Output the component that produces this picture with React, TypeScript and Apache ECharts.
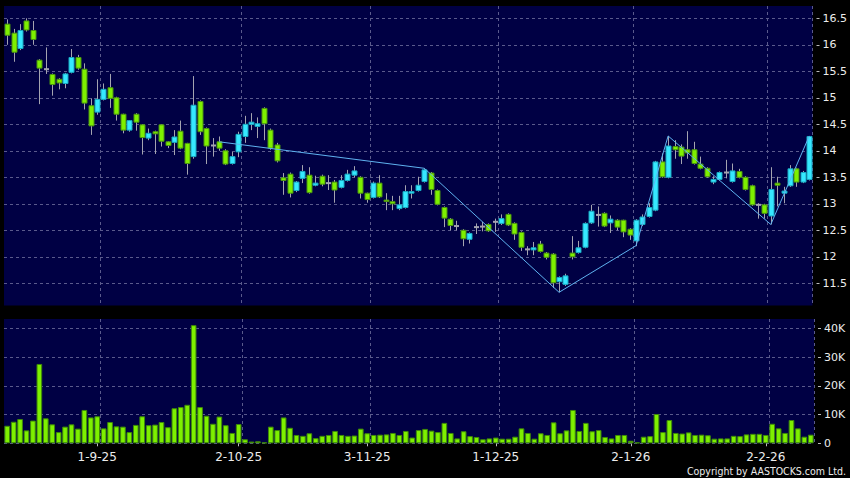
import React, { useEffect, useRef } from "react";
import * as echarts from "echarts";

const dates = [
  "12-8-25","13-8-25","14-8-25","15-8-25","18-8-25","19-8-25","20-8-25","21-8-25","22-8-25",
  "25-8-25","26-8-25","27-8-25","28-8-25","29-8-25",
  "1-9-25","2-9-25","3-9-25","4-9-25","5-9-25","8-9-25","9-9-25","10-9-25","11-9-25","12-9-25",
  "15-9-25","16-9-25","17-9-25","18-9-25","19-9-25","22-9-25","23-9-25","24-9-25","25-9-25","26-9-25",
  "29-9-25","30-9-25",
  "2-10-25","3-10-25","6-10-25","8-10-25","9-10-25","10-10-25","13-10-25","14-10-25","15-10-25","16-10-25","17-10-25",
  "20-10-25","21-10-25","22-10-25","23-10-25","24-10-25","27-10-25","28-10-25","30-10-25","31-10-25",
  "3-11-25","4-11-25","5-11-25","6-11-25","7-11-25","10-11-25","11-11-25","12-11-25","13-11-25","14-11-25",
  "17-11-25","18-11-25","19-11-25","20-11-25","21-11-25","24-11-25","25-11-25","26-11-25","27-11-25","28-11-25",
  "1-12-25","2-12-25","3-12-25","4-12-25","5-12-25","8-12-25","9-12-25","10-12-25","11-12-25","12-12-25",
  "15-12-25","16-12-25","17-12-25","18-12-25","19-12-25","22-12-25","23-12-25","24-12-25","29-12-25","30-12-25","31-12-25",
  "2-1-26","5-1-26","6-1-26","7-1-26","8-1-26","9-1-26","12-1-26","13-1-26","14-1-26","15-1-26","16-1-26",
  "19-1-26","20-1-26","21-1-26","22-1-26","23-1-26","26-1-26","27-1-26","28-1-26","29-1-26","30-1-26",
  "2-2-26","3-2-26","4-2-26","5-2-26","6-2-26","9-2-26","10-2-26","11-2-26"
];

const opens = [
  16.39,16.22,15.93,16.45,16.27,15.71,15.54,15.44,15.35,15.27,
  15.48,15.76,15.54,14.85,14.73,14.97,15.19,15.0,14.69,14.39,
  14.69,14.49,14.24,14.36,14.49,14.17,14.16,14.37,14.14,13.89,
  14.93,14.42,14.1,14.17,14.0,13.76,13.98,14.27,14.5,14.46,
  14.8,14.39,14.11,13.49,13.56,13.25,13.48,13.54,13.35,13.52,
  13.39,13.41,13.31,13.44,13.54,13.5,13.2,13.12,13.39,13.07,
  13.04,12.91,12.93,13.2,13.25,13.42,13.58,13.25,12.93,12.71,
  12.58,12.5,12.33,12.56,12.57,12.61,12.66,12.63,12.8,12.63,
  12.46,12.14,12.13,12.24,12.07,12.05,11.53,11.48,12.07,12.08,
  12.18,12.64,12.79,12.82,12.64,12.69,12.69,12.52,12.3,12.61,
  12.76,12.88,13.79,13.5,14.08,14.07,14.02,14.02,13.75,13.67,
  13.41,13.46,13.59,13.42,13.61,13.5,13.34,12.98,12.98,12.77,
  13.39,13.2,13.34,13.66,13.41,13.46
];
const closes = [
  16.18,15.86,16.27,16.28,16.1,15.56,15.54,15.25,15.28,15.45,
  15.76,15.56,14.9,14.47,14.97,15.16,14.99,14.69,14.39,14.57,
  14.54,14.25,14.33,14.32,14.18,14.1,14.26,14.05,13.76,14.86,
  14.36,14.09,14.1,14.05,13.75,13.89,14.31,14.5,14.54,14.51,
  14.51,14.05,13.81,13.44,13.2,13.41,13.61,13.21,13.39,13.37,
  13.39,13.26,13.44,13.56,13.62,13.2,13.08,13.39,13.13,13.05,
  13.0,12.98,13.23,13.23,13.35,13.64,13.27,12.99,12.73,12.59,
  12.58,12.34,12.44,12.56,12.57,12.49,12.66,12.72,12.6,12.43,
  12.18,12.14,12.17,12.1,11.99,11.51,11.61,11.64,12.0,12.17,
  12.63,12.86,12.79,12.58,12.71,12.56,12.47,12.41,12.69,12.75,
  12.93,13.79,13.51,14.09,14.02,13.9,13.96,13.76,13.67,13.51,
  13.46,13.59,13.59,13.62,13.5,13.27,12.98,12.98,12.82,13.27,
  13.35,13.24,13.66,13.41,13.59,14.27
];
const lows = [
  16.0,15.68,15.9,16.25,16.0,14.88,15.45,15.04,15.16,15.18,
  15.46,15.53,14.78,14.3,14.68,14.95,14.81,14.57,14.33,14.36,
  14.38,13.93,14.2,13.94,14.08,14.05,13.92,14.03,13.55,13.85,
  14.3,13.75,13.89,14.0,13.73,13.74,13.88,14.15,14.39,14.24,
  14.2,14.02,13.78,13.17,13.12,13.22,13.39,13.19,13.33,13.33,
  13.26,13.02,13.29,13.42,13.5,13.1,13.02,13.1,13.11,12.88,
  12.88,12.88,12.91,13.1,13.23,13.4,13.17,12.97,12.56,12.5,
  12.5,12.2,12.25,12.43,12.48,12.47,12.47,12.6,12.58,12.32,
  12.11,12.03,12.03,12.08,11.95,11.41,11.33,11.45,11.95,12.06,
  12.16,12.62,12.57,12.56,12.45,12.5,12.37,12.32,12.2,12.58,
  12.74,12.86,13.49,13.48,13.85,13.75,13.85,13.74,13.65,13.49,
  13.37,13.44,13.48,13.4,13.48,13.25,12.96,12.72,12.72,12.61,
  12.95,13.01,13.32,13.32,13.39,13.44
];
const highs = [
  16.48,16.3,16.39,16.5,16.45,15.73,15.95,15.46,15.37,15.47,
  15.92,15.81,15.65,14.99,15.35,15.27,15.45,15.02,14.7,14.58,
  14.71,14.5,14.42,14.38,14.5,14.18,14.39,14.57,14.15,15.41,
  14.95,14.44,14.24,14.27,14.03,13.98,14.36,14.66,14.71,14.63,
  14.82,14.42,14.15,13.58,13.59,13.43,13.73,13.69,13.53,13.55,
  13.54,13.45,13.54,13.64,13.71,13.52,13.21,13.42,13.54,13.2,
  13.15,13.15,13.35,13.35,13.51,13.67,13.6,13.27,12.95,12.73,
  12.68,12.52,12.46,12.63,12.66,12.63,12.72,12.8,12.82,12.65,
  12.48,12.2,12.28,12.3,12.09,12.07,11.63,11.68,12.39,12.3,
  12.65,12.98,12.95,12.84,12.78,12.71,12.7,12.54,12.71,12.8,
  13.01,13.81,13.95,14.28,14.2,14.12,14.37,14.17,13.89,13.69,
  13.52,13.61,13.83,13.76,13.66,13.52,13.36,13.01,13.0,13.69,
  13.51,13.32,13.73,13.68,13.62,14.28
];
const volumes = [
  6100,7500,8450,4500,7900,27600,8700,6600,3900,5800,
  6600,5100,11600,9000,9400,5200,7400,5900,5800,3900,
  6400,9400,6300,6500,7400,5600,12200,12600,13400,41100,
  12600,9600,6800,9300,6300,3600,6700,1400,600,700,
  300,5800,4600,9000,5400,2900,2600,3500,1800,2600,
  2900,4300,2900,2600,2700,5100,3500,2900,3000,3100,
  3600,2900,4300,2000,4600,5000,4400,3900,7100,3600,
  1700,4200,2500,2200,1400,1700,2000,1600,1600,2300,
  5200,3600,1600,3500,2900,7300,3500,4500,11600,4300,
  7100,4200,4600,2200,1700,2900,2900,900,300,2300,
  2500,10200,3900,8100,3600,3400,3800,2900,3000,2800,
  1600,1700,1700,2600,2500,3100,3300,3300,2900,6800,
  5200,3600,8100,5200,2300,3000
];

// zigzag turning points: index into dates, price
const zigIdx = [33, 65, 86, 98, 103, 119, 125];
const zigVal = [14.17, 13.67, 11.33, 12.21, 14.28, 12.61, 14.28];

const labelDates = ["1-9-25", "2-10-25", "3-11-25", "1-12-25", "2-1-26", "2-2-26"];
const priceTicks = [11.5, 12, 12.5, 13, 13.5, 14, 14.5, 15, 15.5, 16, 16.5];
const volumeTicks = [0, 10000, 20000, 30000, 40000];

const PANEL = "#000044";
const GRID = "#5a5a8c";
const UP_FILL = "#36e8ff";
const UP_EDGE = "#18a8c0";
const DN_FILL = "#7ef000";
const DN_EDGE = "#4a9410";
const WICK = "#a4a4b0";
const TXT = "#ececec";

export default function App() {
  const ref = useRef<HTMLDivElement>(null);
  useEffect(() => {
    const chart = echarts.init(ref.current!, null, { renderer: "svg" });
    const labelIdx = new Set(labelDates.map((d) => dates.indexOf(d)));
    const zig = dates.map(() => null as number | null);
    zigIdx.forEach((ix, k) => (zig[ix] = zigVal[k]));
    const candleData = dates.map((_, i) => [i, opens[i], closes[i], lows[i], highs[i]]);
    const split = {
      show: true,
      interval: (i: number) => labelIdx.has(i - 1),
      lineStyle: { color: GRID, type: [3, 3], width: 1 },
    };
    const hSplit = { show: true, lineStyle: { color: GRID, type: [3, 3], width: 1 } };
    const option: any = {
      animation: false,
      backgroundColor: "#000",
      grid: [
        { left: 4, right: 36, top: 6, height: 299.5, show: true, backgroundColor: PANEL, borderWidth: 0 },
        { left: 4, right: 36, top: 319, height: 124.3, show: true, backgroundColor: PANEL, borderWidth: 0 },
      ],
      xAxis: [
        {
          type: "category", gridIndex: 0, data: dates, boundaryGap: true,
          axisLine: { show: false }, axisTick: { show: false }, axisLabel: { show: false },
          splitLine: split,
        },
        {
          type: "category", gridIndex: 1, data: dates, boundaryGap: true, offset: 3,
          axisLine: { show: false },
          axisTick: {
            show: true, alignWithLabel: true, length: 3,
            interval: (i: number) => labelIdx.has(i),
            lineStyle: { color: "#bbbbbb" },
          },
          axisLabel: {
            interval: (i: number) => labelIdx.has(i),
            color: TXT, fontSize: 12, fontFamily: "DejaVu Sans", margin: 4, lineHeight: 13,
          },
          splitLine: split,
        },
      ],
      yAxis: [
        {
          type: "value", gridIndex: 0, position: "right", min: 11.081, max: 16.732, offset: 4,
          axisLine: { show: false },
          axisTick: { show: true, length: 3, customValues: priceTicks, lineStyle: { color: "#bbbbbb" } },
          axisLabel: {
            customValues: priceTicks, color: TXT, fontSize: 11, fontFamily: "DejaVu Sans", margin: 6,
            formatter: (v: number) => String(v),
          },
          splitLine: hSplit,
        },
        {
          type: "value", gridIndex: 1, position: "right", min: 0, max: 43240, offset: 4,
          axisLine: { show: false },
          axisTick: { show: true, length: 3, customValues: volumeTicks, lineStyle: { color: "#bbbbbb" } },
          axisLabel: {
            customValues: volumeTicks, color: TXT, fontSize: 11, fontFamily: "DejaVu Sans", margin: 6,
            formatter: (v: number) => (v === 0 ? "0" : v / 1000 + "K"),
          },
          splitLine: hSplit,
        },
      ],
      series: [
        {
          type: "custom", xAxisIndex: 0, yAxisIndex: 0, data: candleData,
          encode: { x: 0, y: [1, 2, 3, 4] },
          renderItem: (_p: any, api: any) => {
            const i = api.value(0);
            const o = api.value(1), c = api.value(2), l = api.value(3), h = api.value(4);
            const x = Math.round(api.coord([i, o])[0]) + 0.5;
            const yO = api.coord([i, o])[1];
            const yC = api.coord([i, c])[1];
            const yL = api.coord([i, l])[1];
            const yH = api.coord([i, h])[1];
            const bw = Math.round(api.size([1, 0])[0] * 0.8);
            const children: any[] = [
              { type: "line", shape: { x1: x, y1: yH, x2: x, y2: yL }, style: { stroke: WICK, lineWidth: 1 } },
            ];
            if (o === c) {
              children.push({
                type: "line", shape: { x1: x - bw / 2, y1: yO, x2: x + bw / 2, y2: yO },
                style: { stroke: WICK, lineWidth: 2 },
              });
            } else {
              const up = c > o;
              const top = Math.min(yO, yC), bot = Math.max(yO, yC);
              children.push({
                type: "rect",
                shape: { x: x - bw / 2, y: top, width: bw, height: Math.max(bot - top, 1.5) },
                style: { fill: up ? UP_FILL : DN_FILL, stroke: up ? UP_EDGE : DN_EDGE, lineWidth: 1 },
              });
            }
            return { type: "group", children };
          },
          z: 2,
        },
        {
          type: "line", xAxisIndex: 0, yAxisIndex: 0, data: zig, connectNulls: true,
          symbol: "none", lineStyle: { color: "#5fb2f0", width: 1 }, z: 3,
        },
        {
          type: "bar", xAxisIndex: 1, yAxisIndex: 1, data: volumes, barCategoryGap: "12%",
          itemStyle: { color: DN_FILL, borderColor: "#3e8a08", borderWidth: 1 },
        },
      ],
      graphic: [
        {
          type: "text", right: 4, top: 465,
          style: {
            text: "Copyright by AASTOCKS.com Ltd.", fill: TXT, fontSize: 10.5, lineHeight: 12,
            fontFamily: "'DejaVu Sans Condensed', 'DejaVu Sans'",
          },
        },
      ],
    };
    chart.setOption(option);
    return () => chart.dispose();
  }, []);
  return (
    <div
      ref={ref}
      style={{ position: "fixed", left: 0, top: 0, width: 850, height: 478, background: "#000" }}
    />
  );
}
